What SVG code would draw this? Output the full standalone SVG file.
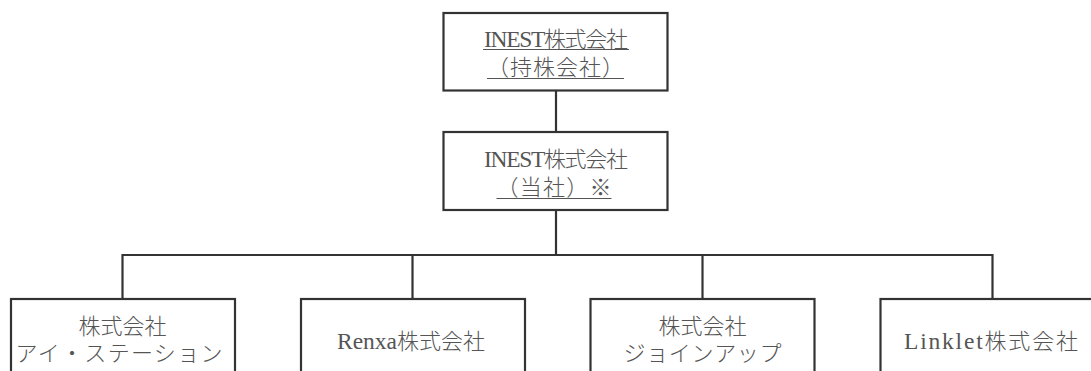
<svg xmlns="http://www.w3.org/2000/svg" width="1091" height="371" viewBox="0 0 1091 371">
<style>
.box{fill:#fff;stroke:#333;stroke-width:2.2}
.conn{fill:none;stroke:#333;stroke-width:2.2}
.t{font-family:"Liberation Serif","Noto Sans CJK JP",serif;font-size:22px;font-weight:300;fill:#555;text-anchor:middle}
.l{font-size:23.5px}
.ul{stroke:#555;stroke-width:1}
</style>
<rect width="1091" height="371" fill="#fff"/>
<g id="connectors">
<line class="conn" x1="556" y1="91" x2="556" y2="132"/>
<line class="conn" x1="556" y1="210" x2="556" y2="255"/>
<polyline class="conn" points="122.5,299 122.5,255 992.5,255 992.5,299"/>
<line class="conn" x1="412.5" y1="255" x2="412.5" y2="299"/>
<line class="conn" x1="702.5" y1="255" x2="702.5" y2="299"/>
</g>
<g id="node-holding">
<rect class="box" x="443.5" y="13" width="224" height="77.5"/>
<text class="t" x="556" y="46.5" textLength="144" lengthAdjust="spacing"><tspan class="l">INEST</tspan>株式会社</text>
<line class="ul" x1="483" y1="49.5" x2="629" y2="49.5"/>
<text class="t" x="555.5" y="74.5" textLength="137" lengthAdjust="spacing">（持株会社）</text>
<line class="ul" x1="487" y1="78.5" x2="624" y2="78.5"/>
</g>
<g id="node-inest">
<rect class="box" x="443.5" y="132" width="224" height="78"/>
<text class="t" x="556" y="166.5" textLength="144" lengthAdjust="spacing"><tspan class="l">INEST</tspan>株式会社</text>
<text class="t" x="554" y="195" textLength="115" lengthAdjust="spacing">（当社）※</text>
<line class="ul" x1="496.5" y1="198.5" x2="611.5" y2="198.5"/>
</g>
<g id="node-istation">
<rect class="box" x="11" y="299" width="224" height="90"/>
<text class="t" x="122.5" y="333.5">株式会社</text>
<text class="t" x="119" y="361" textLength="207" lengthAdjust="spacing">アイ・ステーション</text>
</g>
<g id="node-renxa">
<rect class="box" x="301" y="299" width="224" height="90"/>
<text class="t" x="411" y="348.5" textLength="148" lengthAdjust="spacing"><tspan class="l">Renxa</tspan>株式会社</text>
</g>
<g id="node-joinup">
<rect class="box" x="590.5" y="299" width="224" height="90"/>
<text class="t" x="702.5" y="333.5">株式会社</text>
<text class="t" x="702.5" y="361" textLength="158" lengthAdjust="spacing">ジョインアップ</text>
</g>
<g id="node-linklet">
<rect class="box" x="880.5" y="299" width="224" height="90"/>
<text class="t" x="991" y="348.5" textLength="174" lengthAdjust="spacing"><tspan class="l">Linklet</tspan>株式会社</text>
</g>
</svg>
